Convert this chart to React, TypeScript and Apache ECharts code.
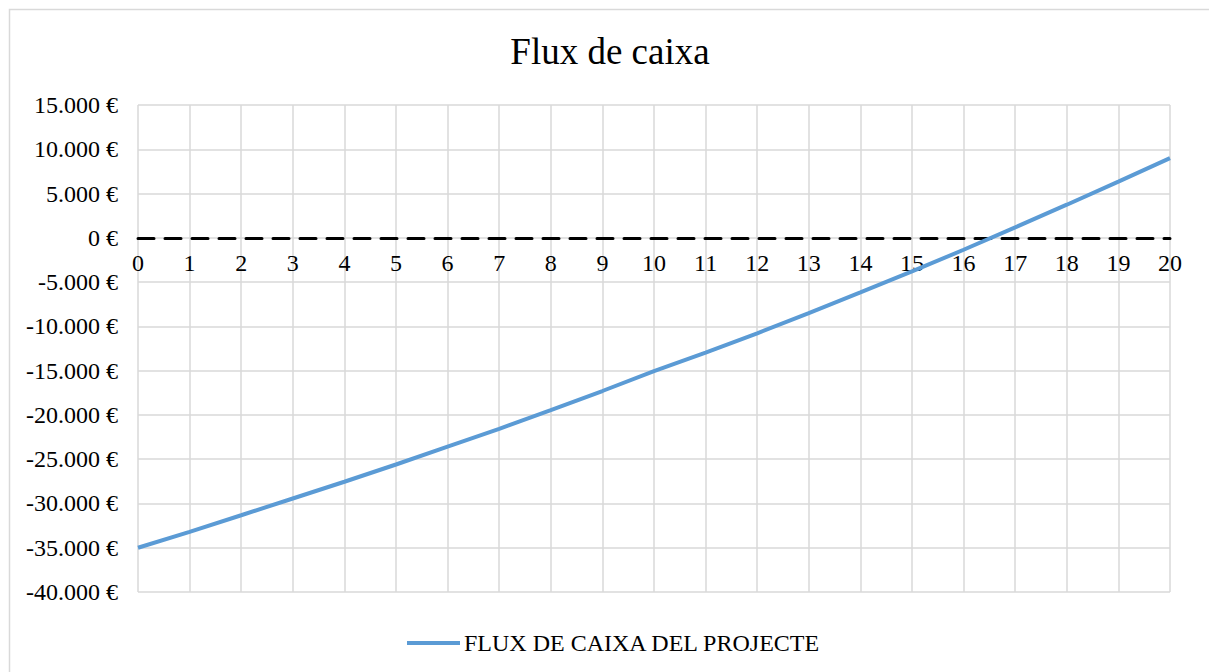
import React, { useEffect, useRef } from "react";
import * as echarts from "echarts";

const years = ["0","1","2","3","4","5","6","7","8","9","10","11","12","13","14","15","16","17","18","19","20"];
const fluxValues = [-35000, -33200, -31330, -29440, -27550, -25600, -23580, -21580, -19460, -17300, -15050, -12960, -10780, -8500, -6170, -3800, -1350, 1180, 3740, 6350, 9000];
const seriesName = "FLUX DE CAIXA DEL PROJECTE";
const titleText = "Flux de caixa";

const FONT = '"Liberation Serif", "Times New Roman", serif';

function fmtEuro(v: number): string {
  const neg = v < 0;
  const s = Math.abs(Math.round(v)).toString().replace(/\B(?=(\d{3})+(?!\d))/g, ".");
  return (neg ? "-" : "") + s + " €";
}

export default function App() {
  const ref = useRef<HTMLDivElement>(null);
  useEffect(() => {
    if (!ref.current) return;
    const chart = echarts.init(ref.current, undefined, { renderer: "svg" });
    chart.setOption({
      animation: false,
      backgroundColor: "#ffffff",
      textStyle: { fontFamily: FONT },
      graphic: [
        {
          type: "rect",
          shape: { x: 9.5, y: 9.5, width: 1240, height: 720 },
          style: { fill: "none", stroke: "#d9d9d9", lineWidth: 1.5 },
          silent: true,
        },
      ],
      title: {
        text: titleText,
        left: 610,
        textAlign: "center",
        top: 33,
        padding: 0,
        textStyle: { fontFamily: FONT, fontSize: 37, fontWeight: "normal", color: "#000" },
      },
      legend: {
        data: [{ name: seriesName, icon: "rect" }],
        left: 407,
        top: 631,
        padding: 0,
        itemWidth: 53,
        itemHeight: 4,
        textStyle: { fontFamily: FONT, fontSize: 24, color: "#000", padding: [0, 0, 0, -1] },
      },
      grid: { left: 138, right: 39, top: 105, bottom: 80, containLabel: false },
      xAxis: {
        type: "category",
        data: years,
        boundaryGap: false,
        offset: -354,
        axisLine: { show: true, onZero: false, lineStyle: { color: "#000", width: 3, type: [16, 11] } },
        axisTick: { show: false },
        axisLabel: { fontFamily: FONT, fontSize: 24, color: "#000", margin: 13, interval: 0 },
        splitLine: { show: true, interval: 0, lineStyle: { color: "#d9d9d9", width: 1.5 } },
      },
      yAxis: {
        type: "value",
        min: -40000,
        max: 15000,
        interval: 5000,
        axisLine: { show: false },
        axisTick: { show: false },
        axisLabel: { fontFamily: FONT, fontSize: 24, color: "#000", margin: 20, formatter: (v: number) => fmtEuro(v) },
        splitLine: { show: true, lineStyle: { color: "#d9d9d9", width: 1.5 } },
      },
      series: [
        {
          name: seriesName,
          type: "line",
          data: fluxValues,
          symbol: "none",
          lineStyle: { color: "#5b9bd5", width: 4 },
          itemStyle: { color: "#5b9bd5" },
          z: 3,
        },
      ],
    });
    return () => chart.dispose();
  }, []);
  return (
    <div
      ref={ref}
      style={{ position: "absolute", left: 0, top: 0, width: 1209, height: 672 }}
    />
  );
}
